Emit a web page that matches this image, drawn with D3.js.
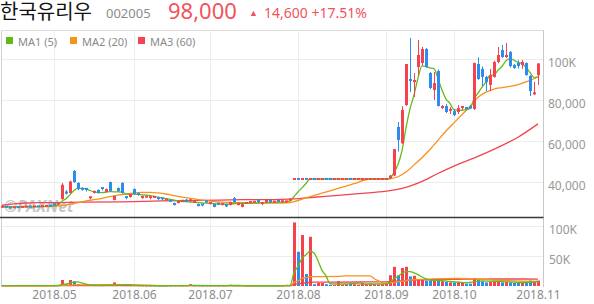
<!DOCTYPE html>
<html>
<head>
<meta charset="utf-8">
<script src="https://cdn.jsdelivr.net/npm/d3@7"></script>
<style>
body { margin: 0; background: #fff; }
svg { display: block; font-family: "Noto Sans", "Open Sans", sans-serif; }
</style>
</head>
<body>
<div id="chart"></div>
<script>
// stock: 한국유리우 (002005), daily candles 2018.04 ~ 2018.11

var stockName = '한국유리우';
var stockCode = '002005';
var lastPrice = '98,000';
var change = '14,600';
var changePct = '+17.51%';

var monthIndex = [13, 33, 52, 74, 96, 113, 134];
var monthLabels = ['2018.05', '2018.06', '2018.07', '2018.08', '2018.09', '2018.10', '2018.11'];
var priceTicks = [40000, 60000, 80000, 100000];
var volumeTicks = [50000, 100000];

var open = [
    27800, 28100, 27700, 27400, 27900, 27600, 28000, 28200, 27900, 28300, 28000, 28400, 28600,
    29300, 28900, 31800, 35500, 34800, 45500, 39700, 37300, 36800, 32000, 34800, 36300, 37200, 35300, 40100, 31400, 37200, 39700, 32800, 32800,
    36700, 34800, 32300, 32600, 31900, 32600, 32300, 32200, 31300, 31000, 29900, 29900, 30800, 31000, 30400, 30300, 29400, 29200, 30700,
    29400, 29400, 29600, 28900, 29400, 28900, 32300, 28900, 28000, 29700, 30200, 30300, 30900, 29000, 30000, 30900, 30000, 30900, 30500, 30100, 31000, 41600,
    41650, 41600, 41650, 41600, 41650, 41600, 41600, 41650, 41650, 41600, 41600, 41600, 41600, 41650, 41600, 41600, 41600, 41600, 41600, 41600, 41600, 41600,
    41600, 42100, 43300, 67000, 59100, 77700, 90400, 88900, 96200, 98200, 105000, 93300, 85000, 94300, 76200, 77200, 74800,
    74800, 74300, 75800, 76200, 77200, 75800, 97700, 95300, 91400, 87500, 91400, 98700, 104500, 101100, 103600, 97200, 98200, 97200, 98200, 91900, 83100,
    92300
];
var high = [
    28200, 28200, 27900, 27900, 28100, 28100, 28400, 28300, 28400, 28400, 28500, 28700, 28700,
    29500, 30100, 39600, 36200, 40800, 46000, 40000, 37600, 37000, 33000, 36000, 36500, 37400, 37000, 40300, 33600, 37500, 40000, 33000, 34500,
    37000, 35000, 33500, 33300, 33000, 33200, 32500, 32400, 31800, 31200, 30100, 31100, 31200, 31900, 31900, 30700, 29600, 29400, 30900,
    30100, 29600, 29800, 29600, 29600, 30600, 32800, 30100, 29600, 30100, 30600, 30700, 31500, 30100, 31100, 31100, 30800, 31100, 31000, 30900, 32300, 41600,
    41650, 41600, 41650, 41600, 41650, 41600, 41600, 41650, 41650, 41600, 41600, 41600, 41600, 41650, 41600, 41600, 41600, 41600, 41600, 41600, 41600, 41600,
    41600, 43600, 56200, 69400, 77200, 97700, 110400, 93300, 109400, 106000, 105500, 93800, 93800, 95000, 77700, 78200, 76700,
    75800, 77700, 77200, 76700, 77700, 98400, 100900, 96500, 91900, 95300, 99200, 106000, 107000, 107900, 104000, 97700, 99500, 99700, 98500, 92300, 89000,
    98000
];
var low = [
    27600, 27500, 27300, 27300, 27500, 27500, 27800, 27800, 27800, 27900, 27900, 28200, 28100,
    28600, 28800, 31500, 34000, 34500, 39800, 36200, 36000, 35500, 31700, 34500, 34600, 36000, 35000, 35500, 31200, 35500, 34500, 31700, 32500,
    34000, 33500, 32000, 32400, 31700, 32400, 31200, 31200, 31100, 30600, 28700, 29700, 30600, 30300, 30200, 30100, 28200, 28300, 29700,
    29200, 27800, 29000, 28700, 28000, 28700, 30200, 28700, 27800, 29500, 30000, 30100, 29800, 28800, 29800, 29800, 29800, 30300, 30300, 29900, 30800, 41600,
    41600, 41600, 41600, 41600, 41600, 41600, 41600, 41600, 41600, 41600, 41600, 41600, 41600, 41600, 41600, 41600, 41600, 41600, 41600, 41600, 41600, 41600,
    41600, 41600, 43100, 55000, 58700, 77200, 84000, 81600, 92300, 97000, 95800, 85500, 80100, 77000, 75800, 73800, 73300,
    72300, 73300, 75300, 75500, 75800, 75300, 90000, 87000, 84500, 84500, 91000, 98000, 100600, 100600, 96000, 95300, 95500, 95300, 92000, 82100, 82600,
    87500
];
var close = [
    28100, 27600, 27400, 27800, 27600, 28000, 28200, 27900, 28300, 28000, 28400, 28500, 28200,
    28800, 29800, 38800, 34500, 40400, 40100, 36700, 36300, 35900, 32700, 35800, 34800, 36300, 36700, 35800, 33300, 35800, 34800, 31900, 34300,
    34300, 33800, 33300, 33000, 32800, 32900, 31400, 31400, 31600, 30800, 28900, 30900, 31000, 30500, 31200, 30500, 28400, 28500, 29900,
    29900, 28000, 29200, 29400, 28200, 30400, 30400, 29900, 29400, 29900, 30400, 30500, 30000, 29900, 30900, 30000, 30600, 30500, 30800, 30700, 32000, 41600,
    41600, 41600, 41600, 41600, 41600, 41600, 41600, 41600, 41600, 41600, 41600, 41600, 41600, 41600, 41600, 41600, 41600, 41600, 41600, 41600, 41600, 41600,
    41600, 43300, 56200, 60600, 75300, 97700, 89400, 89900, 102100, 105000, 96200, 86000, 88400, 77200, 77200, 74300, 75300,
    72800, 76200, 76700, 76000, 76000, 98200, 90400, 91400, 88900, 92300, 98700, 102100, 101100, 102100, 96700, 95800, 96700, 98700, 92300, 84500, 83400,
    98000
];
var volume = [
    600, 500, 400, 500, 400, 600, 500, 400, 500, 400, 600, 500, 700,
    800, 1500, 10000, 3000, 10000, 8000, 3000, 1500, 1200, 1000, 900, 800, 700, 900, 1000, 6000, 1000, 900, 800, 700,
    800, 600, 500, 400, 500, 400, 500, 400, 300, 400, 600, 500, 400, 500, 3000, 400, 500, 400, 500,
    400, 500, 400, 400, 500, 2000, 600, 500, 400, 300, 300, 300, 400, 400, 400, 400, 300, 300, 300, 2000, 800, 106000,
    57000, 85000, 20000, 82000, 3000, 5000, 5000, 3000, 2000, 1500, 8000, 2000, 3000, 4000, 3000, 2000, 5000, 3000, 4000, 3000, 2500, 3000,
    4000, 18000, 32000, 18000, 30000, 32000, 16000, 17000, 10000, 10000, 9000, 9000, 10000, 10000, 8000, 7000, 6000,
    6000, 7000, 5000, 4000, 4000, 13000, 10000, 8000, 6000, 7000, 9000, 8000, 6000, 7000, 6000, 5000, 6000, 5000, 6000, 9000, 7000,
    9000
];

// moving averages: [day index, value]
var ma1 = [[0,28000],[6,28100],[12,28400],[13,28600],[14,29000],[15,30800],[16,32000],[17,34000],[18,36000],[19,37000],[20,37000],[21,36800],[22,36000],[23,35400],[24,35000],[25,35000],[26,35200],[27,35500],[28,35300],[29,35400],[30,35200],[31,34400],[32,34100],[33,34200],[35,33900],[37,33500],[39,32800],[41,32000],[43,31300],[45,30600],[47,30500],[49,30100],[51,29800],[53,29600],[55,29300],[57,29400],[59,29700],[61,29700],[63,29800],[65,30000],[67,30200],[69,30300],[71,30500],[72,30900],[73,33100],[74,35300],[75,37300],[76,39400],[77,41600],[96,41600],[97,41900],[98,44900],[99,48700],[100,55400],[101,66600],[102,75800],[103,82600],[104,90900],[105,96800],[106,96500],[107,95800],[108,95500],[109,90600],[110,85000],[111,80600],[112,78500],[113,75400],[114,75200],[115,75100],[116,75400],[117,76000],[118,80600],[119,83500],[120,86400],[121,89000],[122,92200],[123,92300],[124,94700],[125,96600],[126,99300],[127,100200],[128,99600],[129,98500],[130,98000],[131,96000],[132,93600],[133,91100],[134,91400]];
var ma2 = [[0,28000],[5,28000],[10,28100],[13,28300],[15,28600],[17,29300],[19,30100],[21,30900],[23,31500],[25,32200],[27,33000],[29,33700],[31,34300],[33,34800],[35,35100],[37,35100],[39,34800],[41,34300],[43,33500],[45,32800],[47,32200],[49,31600],[51,31100],[53,30600],[55,30300],[58,30100],[62,30000],[66,29900],[70,29900],[72,30100],[73,30600],[76,32400],[80,34700],[84,37000],[88,39300],[92,41600],[96,41600],[97,41700],[99,42700],[101,45000],[103,48500],[105,52000],[107,56000],[109,60500],[111,65000],[113,69000],[115,73000],[117,77000],[119,81500],[121,84000],[123,85500],[125,86200],[127,86800],[129,87600],[131,89000],[133,90500],[134,91500]];
var ma3 = [[0,28800],[3,29500],[6,29900],[10,30100],[20,30300],[30,30500],[40,30900],[50,31200],[60,31500],[70,31700],[73,31900],[78,32700],[84,33600],[90,34600],[96,35700],[100,37000],[104,39600],[109,44300],[114,48700],[119,52600],[124,57000],[129,62000],[134,68500]];

var vma1 = [[0,500],[12,500],[13,600],[14,800],[15,2700],[16,3200],[17,5000],[18,6400],[19,6800],[20,5100],[21,3300],[22,2000],[23,1300],[24,1000],[26,900],[28,1800],[30,1900],[32,1800],[33,900],[40,450],[45,500],[47,900],[49,1000],[51,500],[56,500],[57,800],[59,800],[62,400],[70,400],[71,700],[72,850],[73,22000],[74,33000],[75,46000],[76,52000],[77,58000],[78,55000],[79,42000],[80,26000],[81,17000],[82,4000],[83,3300],[85,3300],[88,4000],[91,3300],[94,3300],[96,3500],[97,6000],[98,12000],[99,16000],[100,21000],[101,24000],[102,24000],[103,22000],[104,19000],[105,15000],[106,12000],[107,10000],[108,9500],[110,9000],[112,7500],[114,6500],[116,5500],[118,7000],[120,8500],[122,8000],[124,7500],[126,7000],[128,6500],[130,5800],[132,6200],[134,7500]];
var vma2 = [[0,400],[13,450],[15,900],[17,1500],[19,1800],[28,2100],[32,2200],[34,2000],[36,1500],[38,900],[40,600],[50,600],[60,600],[72,600],[73,6000],[74,8500],[75,12700],[76,13700],[77,15500],[84,16000],[86,17000],[92,17000],[93,12500],[94,9000],[95,6000],[96,4500],[98,6000],[100,8000],[102,10000],[104,11000],[108,12000],[114,12500],[118,12000],[122,10500],[126,9000],[130,8000],[134,7500]];
var vma3 = [[0,500],[40,550],[60,600],[72,650],[73,2400],[74,3400],[75,4800],[76,5100],[77,6500],[90,6700],[96,7000],[98,7800],[100,8700],[102,9600],[104,10200],[108,10800],[114,11200],[120,11600],[127,11700],[134,11600]];

var upColor = '#f4434f';
var downColor = '#2c8cf0';
var maColors = ['#63bb17', '#f7921e', '#f24451'];
var gridColor = '#ededed';

var svgWidth = 594;
var svgHeight = 304;

var svg = d3.select('#chart')
    .append('svg')
    .attr('width', svgWidth)
    .attr('height', svgHeight);

var days = d3.range(close.length);

// scales
var xScale = d3.scalePoint().domain(days).range([2, 538]);
var yPrice = d3.scaleLinear().domain([40000, 100000]).range([182.3, 59.3]);
var yVolume = d3.scaleLinear().domain([0, 100000]).range([286, 226]);

// header
svg.append('text')
    .attr('x', 0).attr('y', 19)
    .style('font-family', '"Noto Sans CJK KR", sans-serif')
    .style('font-size', '20px')
    .style('fill', '#111')
    .text(stockName);

svg.append('text')
    .attr('x', 106).attr('y', 18)
    .style('font-size', '13px')
    .style('fill', '#8c8c8c')
    .text(stockCode);

svg.append('text')
    .attr('x', 168).attr('y', 19)
    .style('font-size', '22px')
    .style('fill', '#f2525d')
    .text(lastPrice);

svg.append('text')
    .attr('x', 249).attr('y', 16)
    .style('font-size', '9px')
    .style('fill', '#f2525d')
    .text('▲');

svg.append('text')
    .attr('x', 264).attr('y', 18)
    .style('font-size', '14px')
    .style('fill', '#f2525d')
    .text(change + ' ' + changePct);

// grid lines
var grid = svg.append('g');

grid.selectAll('.vgrid')
    .data(monthIndex.slice(0, -1))
    .enter()
    .append('line')
    .attr('x1', d => xScale(d) + 0.5)
    .attr('x2', d => xScale(d) + 0.5)
    .attr('y1', 31)
    .attr('y2', 286)
    .attr('stroke', gridColor);

grid.selectAll('.hgrid')
    .data(priceTicks)
    .enter()
    .append('line')
    .attr('x1', 2).attr('x2', 543)
    .attr('y1', d => Math.round(yPrice(d)) + 0.5)
    .attr('y2', d => Math.round(yPrice(d)) + 0.5)
    .attr('stroke', gridColor);

grid.selectAll('.vhgrid')
    .data(volumeTicks)
    .enter()
    .append('line')
    .attr('x1', 2).attr('x2', 543)
    .attr('y1', d => Math.round(yVolume(d)) + 0.5)
    .attr('y2', d => Math.round(yVolume(d)) + 0.5)
    .attr('stroke', gridColor);

// frame
svg.append('line').attr('x1', 1.5).attr('x2', 543.5).attr('y1', 30.5).attr('y2', 30.5).attr('stroke', '#dcdcdc');
svg.append('line').attr('x1', 1.5).attr('x2', 1.5).attr('y1', 30.5).attr('y2', 287).attr('stroke', '#d0d0d0');
svg.append('line').attr('x1', 543.5).attr('x2', 543.5).attr('y1', 30.5).attr('y2', 287).attr('stroke', '#c8c8c8');

// watermark
svg.append('text')
    .attr('x', 4).attr('y', 212)
    .style('font-size', '16px')
    .style('font-weight', 'bold')
    .style('font-style', 'italic')
    .style('fill', '#bdbdbd')
    .style('opacity', 0.85)
    .text('©PAXNet');

// moving average lines
var priceLine = d3.line()
    .x(d => xScale(d[0]))
    .y(d => yPrice(d[1]))
    .curve(d3.curveMonotoneX);

var volumeLine = d3.line()
    .x(d => xScale(d[0]))
    .y(d => yVolume(d[1]))
    .curve(d3.curveMonotoneX);

[ma3, ma2, ma1].forEach(function(series, i) {
    svg.append('path')
        .datum(series)
        .attr('d', priceLine)
        .attr('fill', 'none')
        .attr('stroke', maColors[2 - i])
        .attr('stroke-width', 1.3);
});

// candles
var candleGroup = svg.append('g');

var candles = candleGroup.selectAll('g')
    .data(days)
    .enter()
    .append('g');

var colorOf = i => close[i] >= open[i] ? upColor : downColor;

candles.append('line')
    .attr('x1', i => xScale(i) + 0.5)
    .attr('x2', i => xScale(i) + 0.5)
    .attr('y1', i => yPrice(high[i]))
    .attr('y2', i => yPrice(low[i]))
    .attr('stroke', colorOf);

candles.append('rect')
    .attr('x', i => xScale(i) - 1)
    .attr('width', 3)
    .attr('y', function(i) {
        var top = yPrice(Math.max(open[i], close[i]));
        var h = Math.abs(yPrice(open[i]) - yPrice(close[i]));
        return h < 2 ? top - 1 : top;
    })
    .attr('height', i => Math.max(2, Math.abs(yPrice(open[i]) - yPrice(close[i]))))
    .attr('fill', colorOf);

// volume bars
svg.append('g')
    .selectAll('rect')
    .data(days)
    .enter()
    .append('rect')
    .attr('x', i => xScale(i) - 1)
    .attr('width', 3)
    .attr('y', i => yVolume(volume[i]))
    .attr('height', i => Math.max(0.6, yVolume(0) - yVolume(volume[i])))
    .attr('fill', colorOf);

[vma3, vma2, vma1].forEach(function(series, i) {
    svg.append('path')
        .datum(series)
        .attr('d', volumeLine)
        .attr('fill', 'none')
        .attr('stroke', maColors[2 - i])
        .attr('stroke-width', 1.3);
});

// panel separator
svg.append('line')
    .attr('x1', 0).attr('x2', 543.5)
    .attr('y1', 217.5).attr('y2', 217.5)
    .attr('stroke', '#3a3a3a')
    .attr('stroke-width', 1.5);

// legend
var legendItems = [
    {label: 'MA1 (5)', x: 6},
    {label: 'MA2 (20)', x: 70},
    {label: 'MA3 (60)', x: 138}
];

var legend = svg.append('g');
legendItems.forEach(function(item, i) {
    legend.append('rect')
        .attr('x', item.x).attr('y', 37)
        .attr('width', 7).attr('height', 7)
        .attr('fill', maColors[i]);
    legend.append('text')
        .attr('x', item.x + 12).attr('y', 45.5)
        .style('font-size', '11px')
        .style('fill', '#8a8a8a')
        .text(item.label);
});

// axes
var priceFormat = d => d >= 100000 ? (d / 1000) + 'K' : d3.format(',')(d);
var volumeFormat = d => (d / 1000) + 'K';

var priceAxis = d3.axisRight(yPrice)
    .tickValues(priceTicks)
    .tickSize(0)
    .tickPadding(4)
    .tickFormat(priceFormat);

var volumeAxis = d3.axisRight(yVolume)
    .tickValues(volumeTicks)
    .tickSize(0)
    .tickPadding(5)
    .tickFormat(volumeFormat);

var xAxis = d3.axisBottom(xScale)
    .tickValues(monthIndex)
    .tickSize(0)
    .tickPadding(4)
    .tickFormat((d, i) => monthLabels[i]);

svg.append('g')
    .attr('transform', 'translate(544, 0)')
    .call(priceAxis)
    .call(g => g.select('.domain').remove())
    .selectAll('text')
    .attr('dy', '0.62em')
    .style('font-size', '12px')
    .style('font-family', '"Noto Sans", sans-serif')
    .style('fill', '#979797');

svg.append('g')
    .attr('transform', 'translate(544, 0)')
    .call(volumeAxis)
    .call(g => g.select('.domain').remove())
    .selectAll('text')
    .attr('dy', '0.62em')
    .style('font-size', '12px')
    .style('font-family', '"Noto Sans", sans-serif')
    .style('fill', '#979797');

svg.append('g')
    .attr('transform', 'translate(0, 286)')
    .call(xAxis)
    .call(g => g.select('.domain').remove())
    .selectAll('text')
    .style('font-size', '12px')
    .style('font-family', '"Noto Sans", sans-serif')
    .style('fill', '#8c8c8c');
</script>
</body>
</html>
